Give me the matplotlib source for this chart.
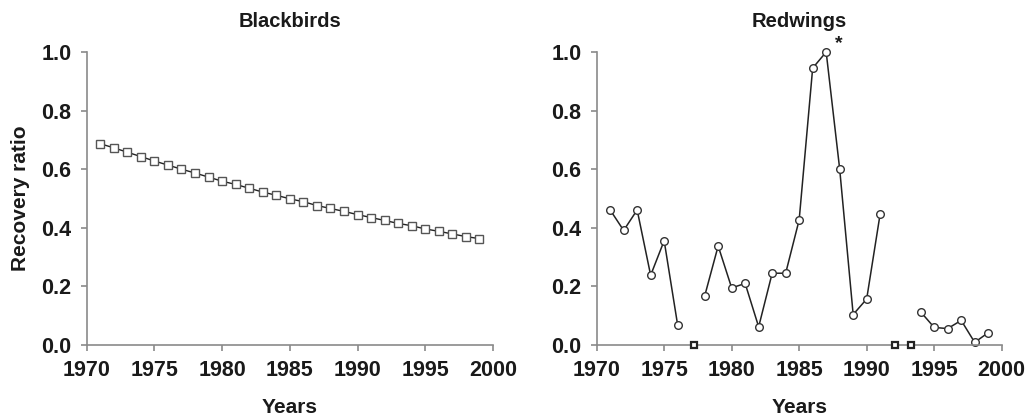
import numpy as np
import matplotlib
matplotlib.use("Agg")
from matplotlib import pyplot as plt

plt.rcParams['font.family'] = ['Liberation Sans', 'DejaVu Sans']
plt.rcParams['font.weight'] = 'bold'

# Blackbirds recovery ratio, one value per year
bb_years = np.arange(1971, 2000)
bb_ratio = [0.687, 0.673, 0.658, 0.643, 0.628, 0.614, 0.600, 0.587, 0.573, 0.559,
            0.548, 0.535, 0.522, 0.511, 0.499, 0.489, 0.476, 0.466, 0.456, 0.445,
            0.435, 0.425, 0.415, 0.407, 0.396, 0.388, 0.379, 0.370, 0.363]

# Redwings, in three segments separated by missing years
rw_seg1_years = [1971, 1972, 1973, 1974, 1975, 1976]
rw_seg1 = [0.461, 0.391, 0.461, 0.238, 0.356, 0.068]
rw_seg2_years = list(range(1978, 1992))
rw_seg2 = [0.167, 0.338, 0.195, 0.210, 0.062, 0.245, 0.245, 0.427, 0.945, 1.0,
           0.601, 0.104, 0.157, 0.448]
rw_seg3_years = [1994, 1995, 1996, 1997, 1998, 1999]
rw_seg3 = [0.113, 0.060, 0.056, 0.084, 0.009, 0.042]
rw_missing_years = [1977.2, 1992.1, 1993.3]
rw_missing = [0.0, 0.0, 0.0]

xticks = [1970, 1975, 1980, 1985, 1990, 1995, 2000]
yticks = [0.0, 0.2, 0.4, 0.6, 0.8, 1.0]

fig = plt.figure(figsize=(10.28, 4.19), dpi=100)
ax1 = fig.add_axes([0.0843, 0.1766, 0.3953, 0.6993])
ax2 = fig.add_axes([0.5804, 0.1766, 0.3940, 0.6993])

spine_col = '#8a8a8a'
txt_col = '#1a1a1a'
for ax in (ax1, ax2):
    ax.set_xlim(1970, 2000)
    ax.set_ylim(0, 1.0)
    ax.set_xticks(xticks)
    ax.set_yticks(yticks)
    ax.set_yticklabels(['%.1f' % v for v in yticks])
    for s in ('top', 'right'):
        ax.spines[s].set_visible(False)
    for s in ('left', 'bottom'):
        ax.spines[s].set_color(spine_col)
        ax.spines[s].set_linewidth(1.2)
    ax.tick_params(direction='out', length=4, width=1.2, color=spine_col,
                   labelsize=15.5, pad=7, labelcolor=txt_col)
    ax.set_xlabel('Years', fontsize=15, fontweight='bold', labelpad=12, color=txt_col)

ax1.plot(bb_years, bb_ratio, color='#222222', lw=1.0, marker='s', ms=5.5,
         mfc='white', mec='#555555', mew=1.0, clip_on=False)
ax1.set_title('Blackbirds', fontsize=14.5, fontweight='bold', pad=18, color=txt_col)
ax1.set_ylabel('Recovery ratio', fontsize=15, fontweight='bold', labelpad=8, color=txt_col)

for yrs, vals in ((rw_seg1_years, rw_seg1), (rw_seg2_years, rw_seg2), (rw_seg3_years, rw_seg3)):
    ax2.plot(yrs, vals, color='#222222', lw=1.1, marker='o', ms=5.5,
             mfc='white', mec='#333333', mew=1.0, clip_on=False)
ax2.plot(rw_missing_years, rw_missing, ls='none', marker='s', ms=5, mfc='white',
         mec='#222222', mew=1.6, clip_on=False, zorder=5)
ax2.text(1987.9, 1.0, '*', fontsize=14, fontweight='bold', ha='center', va='bottom',
         color=txt_col)
ax2.set_title('Redwings', fontsize=14.5, fontweight='bold', pad=18, color=txt_col)

fig.savefig('out.png', dpi=100)
